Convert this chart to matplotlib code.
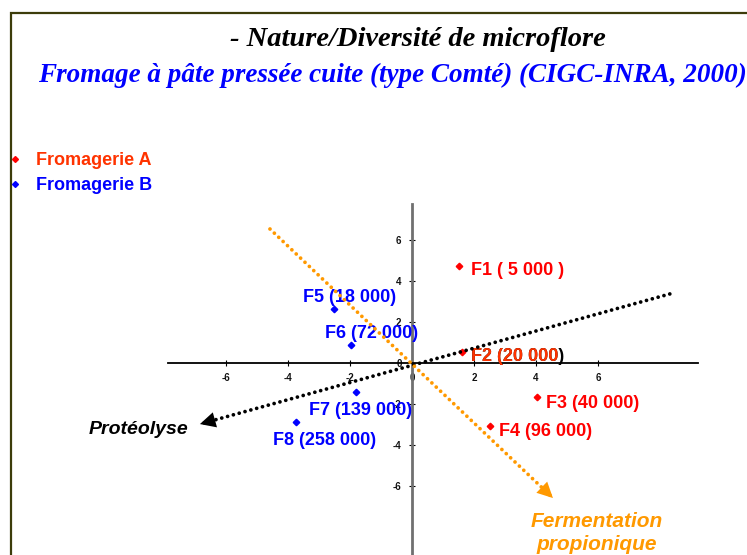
import matplotlib
matplotlib.use('Agg')
import matplotlib.pyplot as plt
from matplotlib.lines import Line2D
from matplotlib.patches import Rectangle

# cheese samples, coordinates on the two first axes
names_a = ['F1', 'F2', 'F3', 'F4']
counts_a = ['( 5 000 )', '(20 000)', '(40 000)', '(96 000)']
x_a = [1.52, 1.61, 4.03, 2.52]
y_a = [4.73, 0.54, -1.66, -3.07]

names_b = ['F5', 'F6', 'F7', 'F8']
counts_b = ['(18 000)', '(72 000)', '(139 000)', '(258 000)']
x_b = [-2.52, -1.97, -1.81, -3.74]
y_b = [2.63, 0.88, -1.41, -2.88]

# direction lines (start, end = arrow tip)
proteo_x = [8.32, -6.84]
proteo_y = [3.37, -2.98]
ferm_x = [-4.58, 4.55]
ferm_y = [6.54, -6.59]

ticks = [-6, -4, -2, 0, 2, 4, 6]

W, H = 747, 555
RED = '#FF0000'
ORANGE_RED = '#FF3300'
BLUE = '#0000FF'
ORANGE = '#FF9900'
SANS = 'Liberation Sans'
SERIF = 'Liberation Serif'

plt.rcParams['axes.unicode_minus'] = False

fig = plt.figure(figsize=(W / 100, H / 100), dpi=100)
fig.patch.set_facecolor('white')

# slide frame
fig.add_artist(Rectangle((11 / W, -0.1), 1.2, 1 - 13 / H + 0.1, transform=fig.transFigure,
                         fill=False, edgecolor='#3c3c0a', lw=1.6))

fig.text(418 / W, 1 - 40 / H, '- Nature/Diversité de microflore', ha='center', va='center',
         family=SERIF, style='italic', weight='bold', fontsize=20.5, color='black')
fig.text(392 / W, 1 - 75 / H, 'Fromage à pâte pressée cuite (type Comté) (CIGC-INRA, 2000)',
         ha='center', va='center', family=SERIF, style='italic', weight='bold',
         fontsize=19.5, color=BLUE)

ax = fig.add_axes([168 / W, 0, (698 - 168) / W, (555 - 204) / H])
ax.set_xlim(-7.87, 9.23)
ax.set_ylim(-9.37, 7.76)
ax.patch.set_alpha(0)

for s in ['top', 'right']:
    ax.spines[s].set_visible(False)
ax.spines['left'].set_position('zero')
ax.spines['bottom'].set_position('zero')
ax.spines['left'].set_color('#707070')
ax.spines['left'].set_linewidth(2)
ax.spines['bottom'].set_linewidth(1.3)
ax.set_xticks(ticks)
ax.set_yticks(ticks)
ax.tick_params(direction='inout', length=5, width=0.8, pad=5, labelsize=7)
for lab in ax.get_xticklabels() + ax.get_yticklabels():
    lab.set_fontweight('bold')
    lab.set_family(SANS)
    lab.set_color('#111111')

ax.plot(x_a, y_a, 'D', color=RED, ms=3.3, ls='none', clip_on=False, zorder=4)
ax.plot(x_b, y_b, 'D', color=BLUE, ms=3.3, ls='none', clip_on=False, zorder=4)

# label offsets in pixels (dx, dy) from each marker
off_a = [(12, -4), (9, -5), (9, -6), (9, -6)]
off_b = [(-31, 12), (-26, 11), (-47, -19), (-23, -18)]

for i in range(4):
    txt = f'{names_a[i]} {counts_a[i]}'
    if i == 1:
        # closing bracket stays black on the slide
        ax.annotate(txt, (x_a[i], y_a[i]), xytext=off_a[i], textcoords='offset pixels',
                    ha='left', va='center', family=SANS, weight='bold', fontsize=13,
                    color='black', zorder=3)
        ax.annotate(txt[:-1], (x_a[i], y_a[i]), xytext=off_a[i], textcoords='offset pixels',
                    ha='left', va='center', family=SANS, weight='bold', fontsize=13,
                    color=ORANGE_RED, zorder=3)
    else:
        ax.annotate(txt, (x_a[i], y_a[i]), xytext=off_a[i], textcoords='offset pixels',
                    ha='left', va='center', family=SANS, weight='bold', fontsize=13,
                    color=RED, zorder=3)
for i in range(4):
    txt = f'{names_b[i]} {counts_b[i]}'
    ax.annotate(txt, (x_b[i], y_b[i]), xytext=off_b[i], textcoords='offset pixels',
                ha='left', va='center', family=SANS, weight='bold', fontsize=13,
                color=BLUE, zorder=3)

# dotted direction lines with arrowheads
dot = (0, (0.01, 1.6))
ax.plot(proteo_x, proteo_y, color='black', lw=2.7, ls=dot, dash_capstyle='round',
        clip_on=False, zorder=5)
ax.annotate('', xy=(proteo_x[1], proteo_y[1]),
            xytext=(proteo_x[1] + 0.4, proteo_y[1] + 0.17),
            arrowprops=dict(arrowstyle='-|>,head_length=0.8,head_width=0.4', color='black',
                            lw=0, shrinkA=0, shrinkB=0, mutation_scale=14),
            annotation_clip=False, zorder=5)
ax.plot(ferm_x, ferm_y, color=ORANGE, lw=2.7, ls=dot, dash_capstyle='round',
        clip_on=False, zorder=5)
ax.annotate('', xy=(ferm_x[1], ferm_y[1]),
            xytext=(ferm_x[1] - 0.3, ferm_y[1] + 0.44),
            arrowprops=dict(arrowstyle='-|>,head_length=0.8,head_width=0.4', color=ORANGE,
                            lw=0, shrinkA=0, shrinkB=0, mutation_scale=14),
            annotation_clip=False, zorder=5)

fig.text(139 / W, 1 - 430 / H, 'Protéolyse', ha='center', va='center', family=SANS,
         style='italic', weight='bold', fontsize=14, color='black')
fig.text(597 / W, 1 - 533 / H, 'Fermentation\npropionique', ha='center', va='center',
         family=SANS, style='italic', weight='bold', fontsize=15, color=ORANGE,
         linespacing=1.3)

handles = [Line2D([], [], marker='D', ms=3, color=RED, ls='none'),
           Line2D([], [], marker='D', ms=3, color=BLUE, ls='none')]
fig.legend(handles, ['Fromagerie A', 'Fromagerie B'], loc='upper left',
           bbox_to_anchor=(6 / W, 1 - 152 / H), frameon=False, prop={'family': SANS,
           'weight': 'bold', 'size': 13}, labelcolor=[ORANGE_RED, BLUE], handlelength=1,
           handletextpad=0.65, labelspacing=0.47, borderpad=0, borderaxespad=0)

fig.savefig('out.png', dpi=100, facecolor='white')
